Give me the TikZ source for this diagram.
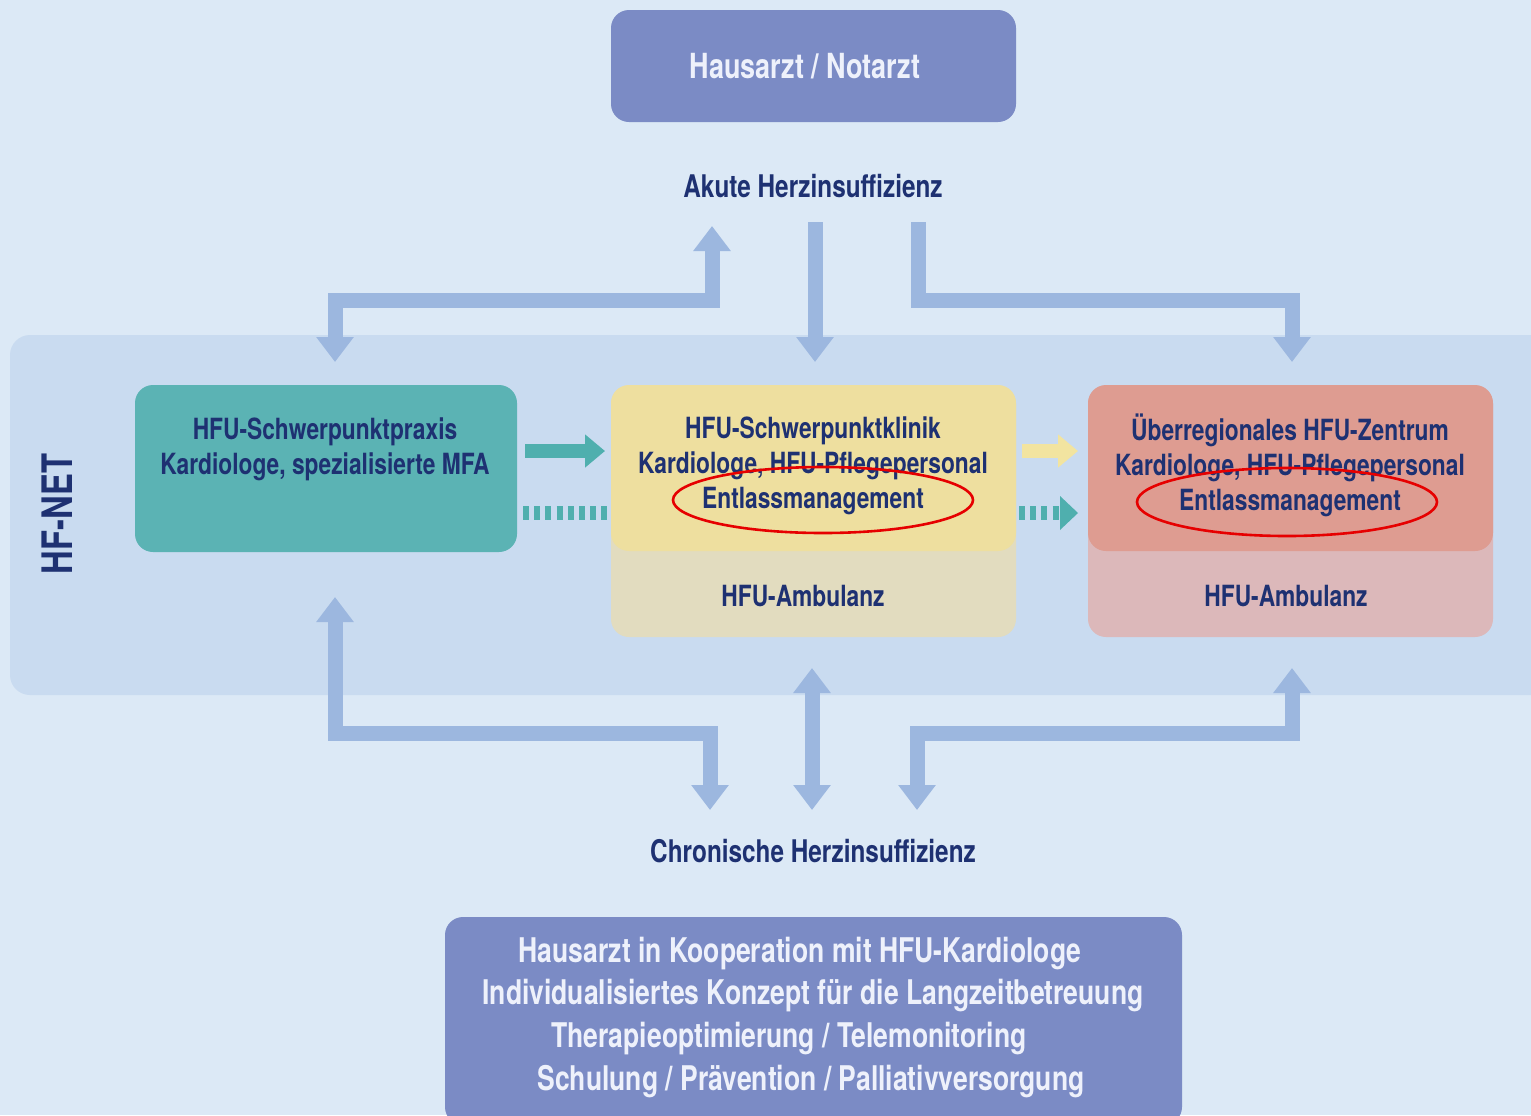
\documentclass[tikz,border=0pt]{standalone}
\usepackage{fontspec}
\setmainfont{TeX Gyre Heros}[FakeStretch=0.78]
\usetikzlibrary{arrows.meta}
\definecolor{bgblue}{HTML}{DCE9F6}
\definecolor{netblue}{HTML}{C9DBF0}
\definecolor{arrowblue}{HTML}{9CB7DF}
\definecolor{navy}{HTML}{1E3172}
\definecolor{boxviolet}{HTML}{7B8BC5}
\definecolor{paletext}{HTML}{EEF1FB}
\definecolor{praxisteal}{HTML}{5BB3B4}
\definecolor{klinikgelb}{HTML}{EEDF9F}
\definecolor{klinikamb}{HTML}{E2DCBF}
\definecolor{zentrumrot}{HTML}{DE9C91}
\definecolor{zentrumamb}{HTML}{DCB8BA}
\definecolor{flowteal}{HTML}{4FAFAE}
\definecolor{flowgelb}{HTML}{F2E4A0}
\definecolor{marker}{HTML}{E60000}
\begin{document}
\begin{tikzpicture}[x=0.5pt, y=-0.5pt, line join=miter,
    box/.style={rounded corners=9pt, inner sep=0pt, minimum width=202.5pt},
    navytext/.style={text=navy, align=center, inner sep=0pt, font=\fontsize{14.6}{17.5}\selectfont\bfseries},
    labeltext/.style={navytext, font=\fontsize{15.6}{17.5}\selectfont\bfseries},
    paletextstyle/.style={text=paletext, align=center, inner sep=0pt},
    langzeitline/.style={paletextstyle, text height=12pt, text depth=3.5pt, font=\fontsize{17}{21.3}\selectfont\bfseries},
    bigarrow/.style={draw=arrowblue, line width=7.5pt, -{Triangle[length=12.5pt,width=18pt]}},
    twoway/.style={bigarrow, {Triangle[length=12.5pt,width=18pt]}-{Triangle[length=12.5pt,width=18pt]}},
    flow/.style={line width=7pt, -{Triangle[length=10pt,width=16pt]}},
    dotflow/.style={draw=flowteal, line width=7pt, dash pattern=on 3pt off 2.6pt},
    ring/.style={draw=marker, line width=1.3pt}]
\useasboundingbox (0,0) rectangle (1531,1115);
\fill[bgblue] (0,0) rectangle (1531,1115);
\fill[netblue, rounded corners=10pt] (10,335) rectangle (1560,695);
\node[navytext, rotate=90, font=\fontsize{21}{21}\selectfont\bfseries] (hfnet) at (57,514) {HF-NET};

% Akutversorgung
\node[box, fill=boxviolet, minimum height=56pt] (notarzt) at (813.5,66) {};
\node[paletextstyle, font=\fontsize{17.3}{17.3}\selectfont\bfseries] (notarzttext) at (805,66) {Hausarzt / Notarzt};
\node[labeltext] (akut) at (813,186) {Akute Herzinsuffizienz};

% HF-NET Einrichtungen
\node[box, fill=praxisteal, minimum width=191pt, minimum height=83.5pt] (praxis) at (326,468.5) {};
\node[navytext] (praxistext) at (325,449) {HFU-Schwerpunktpraxis\\Kardiologe, spezialisierte MFA};
\node[box, fill=klinikamb, minimum height=125.5pt] (klinikbase) at (813.5,511.5) {};
\node[box, fill=klinikgelb, minimum height=83pt] (klinik) at (813.5,468) {};
\node[navytext] (kliniktext) at (813,466) {HFU-Schwerpunktklinik\\Kardiologe, HFU-Pflegepersonal\\Entlassmanagement};
\node[navytext] (klinikambtext) at (803,596) {HFU-Ambulanz};
\node[box, fill=zentrumamb, minimum height=125.5pt] (zentrumbase) at (1290.5,511.5) {};
\node[box, fill=zentrumrot, minimum height=83pt] (zentrum) at (1290.5,468) {};
\node[navytext] (zentrumtext) at (1290,465.5) {Überregionales HFU-Zentrum\\Kardiologe, HFU-Pflegepersonal\\Entlassmanagement};
\node[navytext] (zentrumambtext) at (1286,596) {HFU-Ambulanz};
\draw[ring] (823,500) ellipse [x radius=75pt, y radius=16.5pt];
\draw[ring] (1287,502) ellipse [x radius=75pt, y radius=17pt];

% Chronische Versorgung
\node[labeltext] (chron) at (813,851) {Chronische Herzinsuffizienz};
\node[box, fill=boxviolet, minimum width=368.5pt, minimum height=104pt] (langzeit) at (813.5,1021) {};
\node[langzeitline] (langzeit1) at (800,954) {Hausarzt in Kooperation mit HFU-Kardiologe};
\node[langzeitline] (langzeit2) at (813,996) {Individualisiertes Konzept für die Langzeitbetreuung};
\node[langzeitline] (langzeit3) at (789,1039) {Therapieoptimierung / Telemonitoring};
\node[langzeitline] (langzeit4) at (811,1082) {Schulung / Prävention / Palliativversorgung};

% Anschlusspunkte
\coordinate (akutL) at (712,226);
\coordinate (akutM) at (815,222);
\coordinate (akutR) at (918,222);
\coordinate (praxisO) at (335,362);
\coordinate (klinikO) at (815,362);
\coordinate (zentrumO) at (1292,362);
\coordinate (praxisU) at (335,597);
\coordinate (klinikU) at (812,668);
\coordinate (zentrumU) at (1292,668);
\coordinate (chronL) at (710,810);
\coordinate (chronM) at (812,810);
\coordinate (chronR) at (917,810);

\draw[twoway] (akutL) -- (712,300) -- (335,300) -- (praxisO);
\draw[bigarrow] (akutM) -- (klinikO);
\draw[bigarrow] (akutR) -- (918,300) -- (1292,300) -- (zentrumO);
\draw[twoway] (praxisU) -- (335,733) -- (710,733) -- (chronL);
\draw[twoway] (klinikU) -- (chronM);
\draw[twoway] (zentrumU) -- (1292,733) -- (917,733) -- (chronR);

% Patientenfluss
\draw[flow, flowteal] (525,451) -- (605,451);
\draw[dotflow] (523,513) -- (607,513);
\draw[flow, flowgelb] (1022,451) -- (1078,451);
\draw[dotflow] (1019,513) -- (1062,513);
\fill[flowteal] (1060,496) -- (1078,513) -- (1060,530) -- cycle;
\end{tikzpicture}
\end{document}
